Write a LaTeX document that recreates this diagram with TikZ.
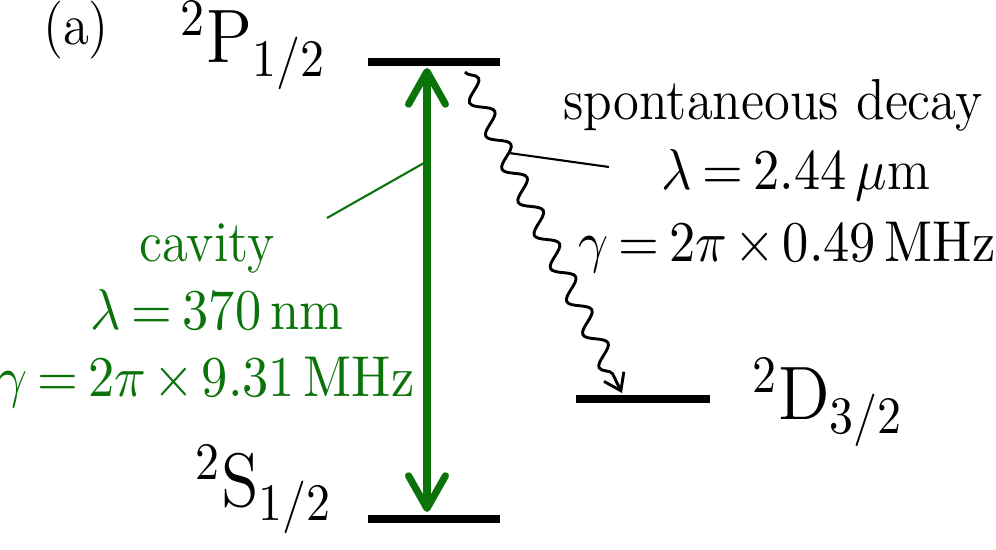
\documentclass[tikz,border=0pt]{standalone}
\usepackage{graphicx}
\usetikzlibrary{arrows.meta,decorations.pathmorphing}
\definecolor{cavgreen}{RGB}{10,115,10}
\newcommand{\sqz}[1]{\scalebox{0.91}[1]{#1}}
\begin{document}
\begin{tikzpicture}[x=0.19pt,y=-0.19pt,
  levelbar/.style={line width=1.55pt},
  cavarrow/.style={cavgreen,line width=1.35pt,line cap=round,
    arrows={Straight Barb[length=6.2pt,width=7pt,round]-Straight Barb[length=6.2pt,width=7pt,round]}},
  decayline/.style={line width=0.55pt,-{Straight Barb[length=3pt,width=4.2pt]},
    decorate,decoration={snake,amplitude=1.8pt,segment length=7pt,post length=2.5pt,pre length=0pt}},
  leader/.style={line width=0.4pt},
  lbl/.style={anchor=base,inner sep=0pt,font=\fontsize{11}{13}\selectfont},
  mlbl/.style={lbl,execute at begin node={\thickmuskip=3.5mu\medmuskip=2.5mu}},
  glbl/.style={mlbl,text=cavgreen},
  levlbl/.style={anchor=base west,inner sep=0pt,font=\fontsize{14}{16}\selectfont}]
\useasboundingbox (0,0) rectangle (996,550);
% levels
\coordinate (Pl) at (368,62);  \coordinate (Pr) at (500,62);
\coordinate (Sl) at (368,519); \coordinate (Sr) at (500,519);
\coordinate (Dl) at (576,399); \coordinate (Dr) at (710,399);
\draw[levelbar] (Pl) -- (Pr);
\draw[levelbar] (Sl) -- (Sr);
\draw[levelbar] (Dl) -- (Dr);
% cavity arrow
\coordinate (Pa) at (427,68); \coordinate (Sa) at (427,512);
\draw[cavarrow] (Sa) -- (Pa);
% decay
\coordinate (w0) at (465,72); \coordinate (w1) at (622,393);
\draw[decayline] (w0) -- (w1);
% leaders
\coordinate (gA) at (424,163); \coordinate (gB) at (327,218);
\draw[leader,cavgreen] (gA) -- (gB);
\coordinate (bA) at (509,153); \coordinate (bB) at (609,167);
\draw[leader] (bA) -- (bB);
% labels
\node[lbl] (a) at (76,45) {\sqz{(a)}};
\node[levlbl] (P) at (179,63) {\sqz{${}^2\mathrm{P}_{1/2}$}};
\node[levlbl] (S) at (194,507) {\sqz{${}^2\mathrm{S}_{1/2}$}};
\node[levlbl] (D) at (751,420) {\sqz{${}^2\mathrm{D}_{3/2}$}};
\node[lbl] (sd) at (773,120) {\sqz{spontaneous decay}};
\node[mlbl] (sl) at (796,190) {\sqz{$\lambda = 2.44\,\mu$m}};
\node[mlbl] (sg) at (787,262) {\sqz{$\gamma = 2\pi\times 0.49\,\mathrm{MHz}$}};
\node[glbl] (cv) at (207,262) {\sqz{cavity}};
\node[glbl] (cl) at (217,330) {\sqz{$\lambda = 370\,\mathrm{nm}$}};
\node[glbl] (cg) at (206,397) {\sqz{$\gamma = 2\pi\times 9.31\,\mathrm{MHz}$}};
\end{tikzpicture}
\end{document}
